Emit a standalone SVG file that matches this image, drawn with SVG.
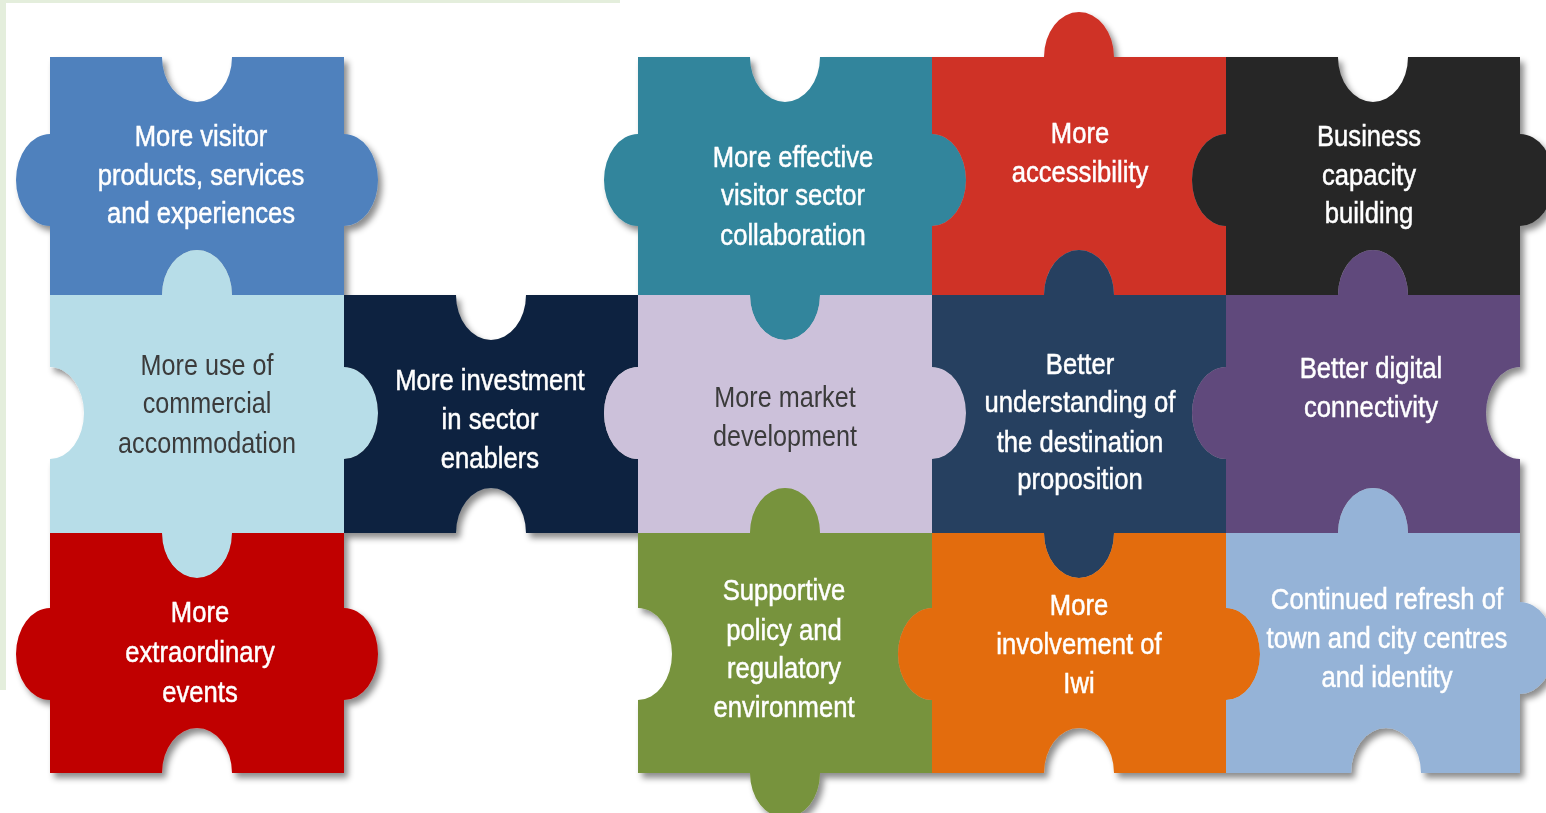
<svg xmlns="http://www.w3.org/2000/svg" width="1546" height="813" viewBox="0 0 1546 813">
<defs>
<filter id="sh" x="-5%" y="-5%" width="110%" height="115%">
<feDropShadow dx="4" dy="5" stdDeviation="3" flood-color="#000" flood-opacity="0.45"/>
</filter>
<style>
.t{font-family:"Liberation Sans",Arial,sans-serif;font-size:30px;fill:#ffffff;stroke:#ffffff;stroke-width:0.5px;text-anchor:middle}
.d{fill:#3a3a3a;stroke:none}
</style>
</defs>
<rect x="0" y="0" width="1546" height="813" fill="#ffffff"/>
<rect x="0" y="0" width="6" height="690" fill="#e4eedc"/>
<rect x="0" y="0" width="620" height="3" fill="#e4eedc"/>
<g id="pieces" filter="url(#sh)">
<g id="n-visitor-products">
<path fill="#4f81bd" d="M50,57 L162,57 A35 45 0 0 0 232,57 L344,57 L344,134 A34 46 0 0 1 344,226 L344,295 L232,295 A35 45 0 0 0 162,295 L50,295 L50,226 A34 46 0 0 1 50,134 Z"/>
<text class="t" transform="matrix(0.855 0 0 1 201 0)"><tspan x="0" y="146">More visitor</tspan><tspan x="0" y="185">products, services</tspan><tspan x="0" y="223">and experiences</tspan></text>
</g>
<g id="n-collaboration">
<path fill="#31859c" d="M638,57 L750,57 A35 45 0 0 0 820,57 L932,57 L932,134 A34 46 0 0 1 932,226 L932,295 L820,295 A35 45 0 0 1 750,295 L638,295 L638,226 A34 46 0 0 1 638,134 Z"/>
<text class="t" transform="matrix(0.855 0 0 1 793 0)"><tspan x="0" y="167">More effective</tspan><tspan x="0" y="205">visitor sector</tspan><tspan x="0" y="245">collaboration</tspan></text>
</g>
<g id="n-accessibility">
<path fill="#cf3228" d="M932,57 L1044,57 A35 45 0 0 1 1114,57 L1226,57 L1226,134 A34 46 0 0 0 1226,226 L1226,295 L1114,295 A35 45 0 0 0 1044,295 L932,295 L932,226 A34 46 0 0 0 932,134 Z"/>
<text class="t" transform="matrix(0.855 0 0 1 1080 0)"><tspan x="0" y="143">More</tspan><tspan x="0" y="182">accessibility</tspan></text>
</g>
<g id="n-business">
<path fill="#262626" d="M1226,57 L1338,57 A35 45 0 0 0 1408,57 L1520,57 L1520,134 A34 46 0 0 1 1520,226 L1520,295 L1408,295 A35 45 0 0 0 1338,295 L1226,295 L1226,226 A34 46 0 0 1 1226,134 Z"/>
<text class="t" transform="matrix(0.855 0 0 1 1369 0)"><tspan x="0" y="146">Business</tspan><tspan x="0" y="185">capacity</tspan><tspan x="0" y="223">building</tspan></text>
</g>
<g id="n-accommodation">
<path fill="#b7dde8" d="M50,295 L162,295 A35 45 0 0 1 232,295 L344,295 L344,367 A34 46 0 0 1 344,459 L344,533 L232,533 A35 45 0 0 1 162,533 L50,533 L50,459 A34 46 0 0 0 50,367 Z"/>
<text class="t d" transform="matrix(0.84 0 0 1 207 0)"><tspan x="0" y="375">More use of</tspan><tspan x="0" y="413">commercial</tspan><tspan x="0" y="453">accommodation</tspan></text>
</g>
<g id="n-investment">
<path fill="#11243f" d="M344,295 L456,295 A35 45 0 0 0 526,295 L638,295 L638,367 A34 46 0 0 0 638,459 L638,533 L526,533 A35 45 0 0 0 456,533 L344,533 L344,459 A34 46 0 0 0 344,367 Z"/>
<text class="t" transform="matrix(0.855 0 0 1 490 0)"><tspan x="0" y="390">More investment</tspan><tspan x="0" y="429">in sector</tspan><tspan x="0" y="468">enablers</tspan></text>
</g>
<g id="n-market">
<path fill="#ccc1da" d="M638,295 L750,295 A35 45 0 0 0 820,295 L932,295 L932,367 A34 46 0 0 1 932,459 L932,533 L820,533 A35 45 0 0 0 750,533 L638,533 L638,459 A34 46 0 0 1 638,367 Z"/>
<text class="t d" transform="matrix(0.84 0 0 1 785 0)"><tspan x="0" y="407">More market</tspan><tspan x="0" y="446">development</tspan></text>
</g>
<g id="n-understanding">
<path fill="#254061" d="M932,295 L1044,295 A35 45 0 0 1 1114,295 L1226,295 L1226,367 A34 46 0 0 0 1226,459 L1226,533 L1114,533 A35 45 0 0 1 1044,533 L932,533 L932,459 A34 46 0 0 0 932,367 Z"/>
<text class="t" transform="matrix(0.855 0 0 1 1080 0)"><tspan x="0" y="374">Better</tspan><tspan x="0" y="412">understanding of</tspan><tspan x="0" y="452">the destination</tspan><tspan x="0" y="489">proposition</tspan></text>
</g>
<g id="n-digital">
<path fill="#604a7b" d="M1226,295 L1338,295 A35 45 0 0 1 1408,295 L1520,295 L1520,367 A34 46 0 0 0 1520,459 L1520,533 L1408,533 A35 45 0 0 0 1338,533 L1226,533 L1226,459 A34 46 0 0 1 1226,367 Z"/>
<text class="t" transform="matrix(0.855 0 0 1 1371 0)"><tspan x="0" y="378">Better digital</tspan><tspan x="0" y="417">connectivity</tspan></text>
</g>
<g id="n-events">
<path fill="#c00000" d="M50,533 L162,533 A35 45 0 0 0 232,533 L344,533 L344,608 A34 46 0 0 1 344,700 L344,773 L232,773 A35 45 0 0 0 162,773 L50,773 L50,700 A34 46 0 0 1 50,608 Z"/>
<text class="t" transform="matrix(0.855 0 0 1 200 0)"><tspan x="0" y="622">More</tspan><tspan x="0" y="662">extraordinary</tspan><tspan x="0" y="702">events</tspan></text>
</g>
<g id="n-policy">
<path fill="#77933c" d="M638,533 L750,533 A35 45 0 0 1 820,533 L932,533 L932,608 A34 46 0 0 0 932,700 L932,773 L820,773 A35 45 0 0 1 750,773 L638,773 L638,700 A34 46 0 0 0 638,608 Z"/>
<text class="t" transform="matrix(0.855 0 0 1 784 0)"><tspan x="0" y="600">Supportive</tspan><tspan x="0" y="640">policy and</tspan><tspan x="0" y="678">regulatory</tspan><tspan x="0" y="717">environment</tspan></text>
</g>
<g id="n-iwi">
<path fill="#e36c0a" d="M932,533 L1044,533 A35 45 0 0 0 1114,533 L1226,533 L1226,608 A34 46 0 0 1 1226,700 L1226,773 L1114,773 A35 45 0 0 0 1044,773 L932,773 L932,700 A34 46 0 0 1 932,608 Z"/>
<text class="t" transform="matrix(0.855 0 0 1 1079 0)"><tspan x="0" y="615">More</tspan><tspan x="0" y="654">involvement of</tspan><tspan x="0" y="693">Iwi</tspan></text>
</g>
<g id="n-refresh">
<path fill="#95b3d7" d="M1226,533 L1338,533 A35 45 0 0 1 1408,533 L1520,533 L1520,602 A34 46 0 0 1 1520,694 L1520,773 L1421,773 A35 45 0 0 0 1351,773 L1226,773 L1226,700 A34 46 0 0 0 1226,608 Z"/>
<text class="t" transform="matrix(0.855 0 0 1 1387 0)"><tspan x="0" y="609">Continued refresh of</tspan><tspan x="0" y="648">town and city centres</tspan><tspan x="0" y="687">and identity</tspan></text>
</g>
</g>
<g id="connectors"/>
</svg>
